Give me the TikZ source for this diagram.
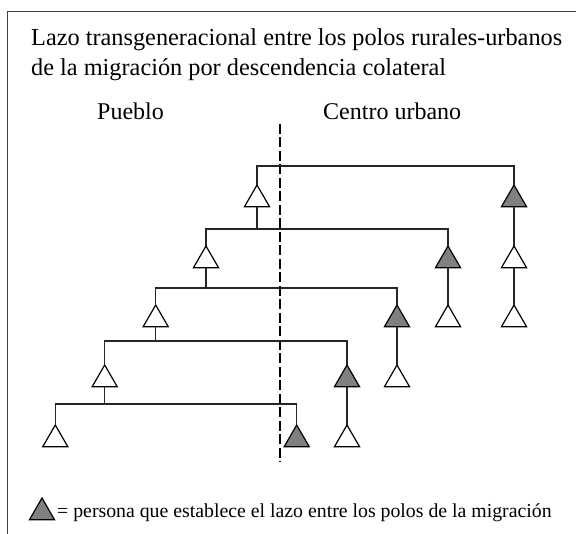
\documentclass[tikz,border=0pt]{standalone}
\usepackage{fontspec}
\setmainfont{Liberation Serif}
\usetikzlibrary{shapes.geometric}
\definecolor{linkgray}{gray}{0.5}
\tikzset{
  person/.style={regular polygon, regular polygon sides=3, minimum size=28.9pt,
    inner sep=0pt, outer sep=0pt, draw=black, line width=1.2pt, fill=white, anchor=north},
  linkperson/.style={person, fill=linkgray},
  kin/.style={line width=1.2pt, draw=black!85},
  frameline/.style={line width=1.5pt, draw=black!75},
  divider/.style={line width=2pt, draw=black, dash pattern=on 10pt off 3.5pt},
  titletext/.style={font=\fontsize{24.3}{29}\selectfont, anchor=base west, inner sep=0pt},
  headtext/.style={font=\fontsize{24}{29}\selectfont, anchor=base west, inner sep=0pt},
  keytext/.style={font=\fontsize{19.8}{24}\selectfont, anchor=base west, inner sep=0pt},
}
\begin{document}
\begin{tikzpicture}[x=1pt,y=-1pt]
\useasboundingbox (0,0) rectangle (576,534);
% frame (top and left edges only)
\coordinate (fr1) at (576,11.5);
\coordinate (fr2) at (7.5,11.5);
\coordinate (fr3) at (7.5,534);
\draw[frameline] (fr1) -- (fr2) -- (fr3);
% texts
\node[titletext] (tl1) at (31,46) {Lazo transgeneracional entre los polos rurales-urbanos};
\node[titletext] (tl2) at (31,76) {de la migración por descendencia colateral};
\node[headtext] (pueblo) at (97,120) {Pueblo};
\node[headtext] (centro) at (323,120) {Centro urbano};
% dashed divider
\coordinate (dtop) at (280,124);
\coordinate (dbot) at (280,462);
\draw[divider] (dtop) -- (dbot);
% generation levels
\coordinate (L1) at (0,166);
\coordinate (L2) at (0,229);
\coordinate (L3) at (0,288);
\coordinate (L4) at (0,341);
\coordinate (L5) at (0,404);
% persons
\node[person] (t1) at (257,185) {};
\node[linkperson] (r1) at (514,185) {};
\node[person] (r2) at (514,246) {};
\node[person] (r3) at (514,305) {};
\node[person] (a2) at (206,246) {};
\node[linkperson] (b1) at (448,246) {};
\node[person] (b2) at (448,305) {};
\node[person] (a3) at (155.7,305) {};
\node[linkperson] (c1) at (397,305) {};
\node[person] (c2) at (397,365) {};
\node[person] (a4) at (104.7,365) {};
\node[linkperson] (d1) at (347,365) {};
\node[person] (d2) at (347,425) {};
\node[person] (a5) at (55.3,425) {};
\node[linkperson] (e1) at (296.7,425) {};
% sibling lines
\draw[kin] (t1.north) |- (r1.north |- L1) -- (r1.north);
\draw[kin] (a2.north) |- (b1.north |- L2) -- (b1.north);
\draw[kin] (a3.north) |- (c1.north |- L3) -- (c1.north);
\draw[kin] (a4.north) |- (d1.north |- L4) -- (d1.north);
\draw[kin] (a5.north) |- (e1.north |- L5) -- (e1.north);
% descent lines
\draw[kin] (t1.south) -- (t1.south |- L2);
\draw[kin] (a2.south) -- (a2.south |- L3);
\draw[kin] (a3.south) -- (a3.south |- L4);
\draw[kin] (a4.south) -- (a4.south |- L5);
\draw[kin] (r1.south) -- (r2.north);
\draw[kin] (r2.south) -- (r3.north);
\draw[kin] (b1.south) -- (b2.north);
\draw[kin] (c1.south) -- (c2.north);
\draw[kin] (d1.south) -- (d2.north);
% legend
\node[linkperson] (key) at (42,498) {};
\node[keytext] (keylabel) at (57,518) {= persona que establece el lazo entre los polos de la migración};
\end{tikzpicture}
\end{document}
